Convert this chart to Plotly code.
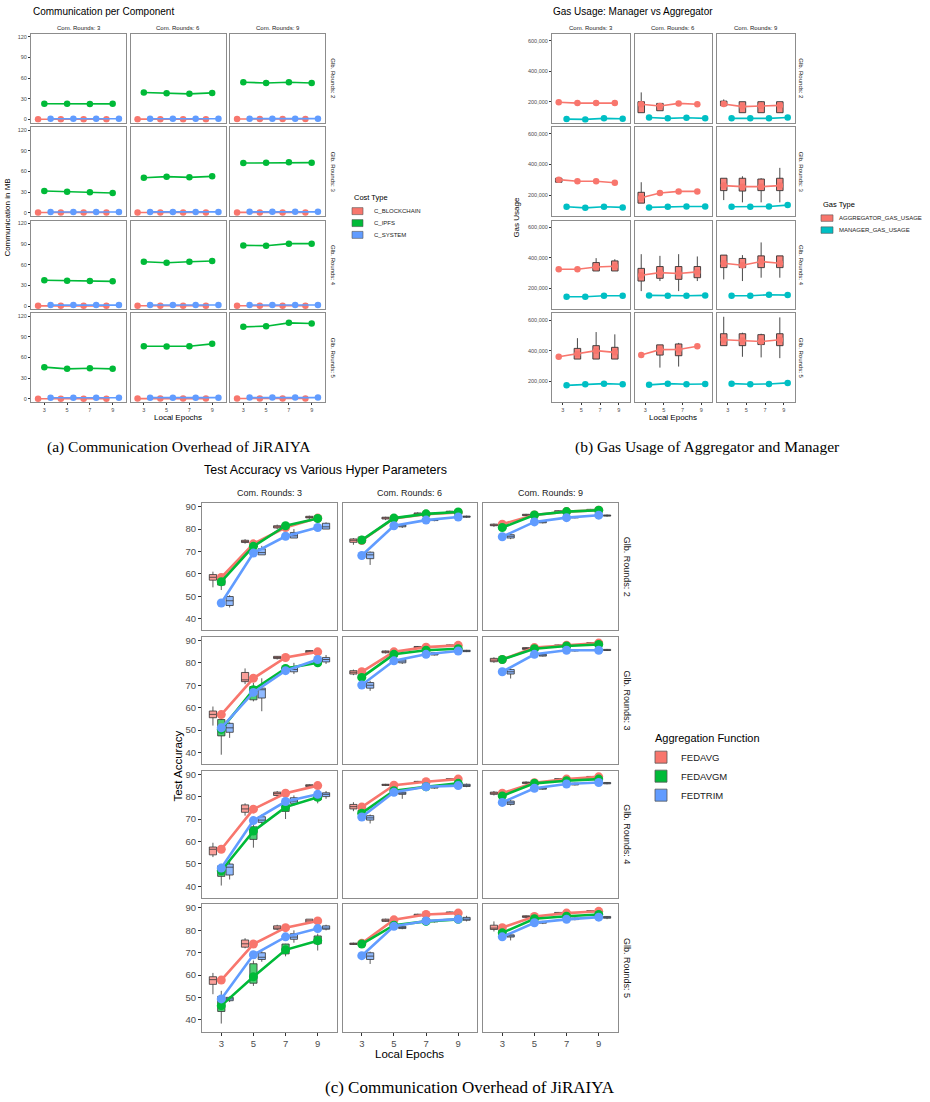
import plotly.graph_objects as go

W, H = 930, 1102
SANS = "Liberation Sans, Arial, sans-serif"
SERIF = "Liberation Serif, Times New Roman, serif"
BORDER = "#8C8C8C"

EPOCHS = [3, 5, 7, 9]
COM_ROUNDS = [3, 6, 9]
GLB_ROUNDS = [2, 3, 4, 5]

RED, GREEN, BLUE, TEAL = "#F8766D", "#00BA38", "#619CFF", "#00BFC4"

# ---------------- (a) Communication per Component (MB) ----------------
# dict key = Glb. Rounds; list rows = Com. Rounds 3/6/9; inner = epochs 3,5,7,9
A_COST_TYPES = ["C_BLOCKCHAIN", "C_IPFS", "C_SYSTEM"]
A_BLOCKCHAIN = {
    2: [[0.2, 0.2, 0.2, 0.2], [0.3, 0.3, 0.3, 0.3], [0.4, 0.4, 0.4, 0.4]],
    3: [[0.2, 0.2, 0.2, 0.2], [0.3, 0.3, 0.3, 0.3], [0.4, 0.4, 0.4, 0.4]],
    4: [[0.2, 0.2, 0.2, 0.2], [0.3, 0.3, 0.3, 0.3], [0.4, 0.4, 0.4, 0.4]],
    5: [[0.2, 0.2, 0.2, 0.2], [0.3, 0.3, 0.3, 0.3], [0.4, 0.4, 0.4, 0.4]],
}
A_IPFS = {
    2: [[22.6, 22.6, 22.2, 22.5], [38.9, 37.9, 37.0, 38.4], [53.8, 52.8, 53.8, 52.8]],
    3: [[31.4, 30.5, 29.5, 28.5], [50.8, 52.3, 51.3, 52.7], [72.1, 72.6, 73.1, 72.6]],
    4: [[37.3, 36.8, 36.3, 35.8], [64.3, 62.9, 64.3, 65.3], [88.0, 87.6, 90.5, 90.5]],
    5: [[46.0, 43.5, 44.5, 43.5], [76.4, 76.0, 76.4, 79.8], [104.5, 105.5, 110.3, 109.3]],
}
A_SYSTEM = {
    2: [[0.8, 0.8, 0.8, 0.8], [0.9, 0.9, 0.9, 0.9], [1.0, 1.0, 1.0, 1.0]],
    3: [[1.0, 1.0, 1.0, 1.0], [1.1, 1.1, 1.1, 1.1], [1.2, 1.2, 1.2, 1.2]],
    4: [[1.3, 1.3, 1.3, 1.3], [1.4, 1.4, 1.4, 1.4], [1.5, 1.5, 1.5, 1.5]],
    5: [[1.6, 1.6, 1.6, 1.6], [1.7, 1.7, 1.7, 1.7], [1.8, 1.8, 1.8, 1.8]],
}
A_YTICKS = [0, 30, 60, 90, 120]

# ---------------- (b) Gas usage ----------------
B_GAS_TYPES = ["AGGREGATOR_GAS_USAGE", "MANAGER_GAS_USAGE"]
B_AGG_MEAN = {
    2: [[196e3, 191e3, 191e3, 191e3], [183e3, 172e3, 189e3, 183e3], [185e3, 168e3, 172e3, 176e3]],
    3: [[301e3, 290e3, 290e3, 281e3], [182e3, 213e3, 224e3, 224e3], [262e3, 255e3, 255e3, 262e3]],
    4: [[325e3, 325e3, 340e3, 345e3], [286e3, 303e3, 297e3, 308e3], [365e3, 352e3, 376e3, 365e3]],
    5: [[360e3, 378e3, 400e3, 389e3], [371e3, 407e3, 408e3, 429e3], [472e3, 466e3, 460e3, 472e3]],
}
B_MGR_MEAN = {
    2: [[86e3, 84e3, 91e3, 88e3], [97e3, 91e3, 95e3, 91e3], [91e3, 91e3, 91e3, 97e3]],
    3: [[123e3, 116e3, 123e3, 119e3], [119e3, 123e3, 125e3, 125e3], [123e3, 123e3, 125e3, 134e3]],
    4: [[145e3, 145e3, 152e3, 152e3], [154e3, 152e3, 152e3, 154e3], [152e3, 152e3, 158e3, 156e3]],
    5: [[173e3, 180e3, 184e3, 180e3], [176e3, 184e3, 180e3, 182e3], [184e3, 180e3, 182e3, 189e3]],
}
# aggregator boxplots: [lower whisker, q1, median, q3, upper whisker] (None = not visible)
B_AGG_BOX = {
    (2, 3): [None, None, None, None],
    (2, 6): [[128e3, 128e3, 183e3, 200e3, 261e3], [141e3, 141e3, 172e3, 189e3, 189e3], None, None],
    (2, 9): [[174e3, 174e3, 185e3, 204e3, 215e3], [128e3, 128e3, 168e3, 200e3, 200e3],
             [128e3, 128e3, 172e3, 200e3, 204e3], [128e3, 128e3, 176e3, 200e3, 200e3]],
    (3, 3): [[284e3, 284e3, 301e3, 310e3, 310e3], None, None, None],
    (3, 6): [[147e3, 147e3, 182e3, 218e3, 284e3], None, None, None],
    (3, 9): [[167e3, 229e3, 262e3, 310e3, 310e3], [152e3, 226e3, 255e3, 310e3, 323e3],
             [152e3, 229e3, 255e3, 305e3, 310e3], [152e3, 229e3, 262e3, 310e3, 378e3]],
    (4, 3): [None, None, [314e3, 314e3, 338e3, 369e3, 398e3], [314e3, 314e3, 345e3, 380e3, 391e3]],
    (4, 6): [[182e3, 248e3, 292e3, 331e3, 424e3], [248e3, 266e3, 303e3, 343e3, 413e3],
             [182e3, 259e3, 299e3, 343e3, 424e3], [248e3, 270e3, 308e3, 343e3, 409e3]],
    (4, 9): [[259e3, 336e3, 369e3, 418e3, 418e3], [248e3, 336e3, 358e3, 396e3, 418e3],
             [270e3, 336e3, 369e3, 413e3, 501e3], [270e3, 336e3, 369e3, 413e3, 413e3]],
    (5, 3): [None, [345e3, 345e3, 378e3, 415e3, 482e3], [345e3, 345e3, 393e3, 433e3, 522e3],
             [345e3, 345e3, 389e3, 422e3, 507e3]],
    (5, 6): [None, [289e3, 371e3, 407e3, 438e3, 438e3], [296e3, 367e3, 411e3, 444e3, 451e3], None],
    (5, 9): [[433e3, 433e3, 471e3, 511e3, 622e3], [360e3, 433e3, 467e3, 511e3, 518e3],
             [356e3, 440e3, 460e3, 505e3, 511e3], [351e3, 433e3, 472e3, 511e3, 618e3]],
}
B_YTICKS = [200000, 400000, 600000]

# ---------------- (c) Test accuracy ----------------
FUNCS = ["FEDAVG", "FEDAVGM", "FEDTRIM"]
C_MEAN = {
    2: {"FEDAVG": [[58.4, 73.4, 80.7, 84.9], [74.9, 84.7, 86.6, 87.4], [82.2, 86.3, 87.8, 88.4]],
        "FEDAVGM": [[56.5, 72.3, 81.5, 84.7], [75.1, 84.9, 86.8, 87.6], [80.7, 86.3, 87.8, 88.4]],
        "FEDTRIM": [[47.0, 69.3, 76.8, 80.7], [68.2, 81.5, 84.0, 85.4], [76.6, 83.2, 85.1, 86.2]]},
    3: {"FEDAVG": [[56.9, 73.1, 82.4, 84.9], [76.0, 84.9, 87.0, 87.8], [81.5, 86.8, 87.8, 88.8]],
        "FEDAVGM": [[50.3, 68.0, 77.5, 80.0], [73.5, 83.8, 85.6, 86.3], [81.5, 86.3, 87.5, 88.2]],
        "FEDTRIM": [[51.0, 66.8, 76.5, 81.5], [70.1, 80.9, 83.8, 85.3], [76.0, 83.8, 85.6, 85.6]]},
    4: {"FEDAVG": [[56.5, 74.4, 81.5, 84.9], [75.3, 85.1, 86.6, 87.8], [81.5, 86.2, 87.8, 88.8]],
        "FEDAVGM": [[46.9, 64.6, 75.3, 79.7], [72.6, 82.6, 84.4, 85.9], [80.3, 85.9, 87.1, 87.8]],
        "FEDTRIM": [[48.1, 69.3, 77.8, 81.0], [70.9, 81.9, 84.4, 84.9], [77.4, 83.7, 85.6, 86.3]]},
    5: {"FEDAVG": [[57.8, 73.9, 81.2, 84.2], [74.2, 84.7, 87.1, 87.7], [81.2, 86.2, 87.7, 88.5]],
        "FEDAVGM": [[46.4, 59.3, 71.3, 75.4], [73.9, 82.3, 84.0, 84.9], [78.9, 85.2, 86.3, 87.1]],
        "FEDTRIM": [[49.4, 69.1, 77.1, 80.8], [68.7, 81.8, 84.2, 85.0], [77.1, 83.4, 84.9, 85.9]]},
}
# boxplots: [lower whisker, q1, median, q3, upper whisker]
C_BOX = {
    2: {"FEDAVG": [[[54, 57.2, 58.5, 59.7, 61], [73.5, 74, 74.5, 75, 75.5], [80, 80.5, 81, 81.5, 82], [84.5, 85, 85.3, 85.7, 86]],
                   [[73, 74.1, 75, 75.6, 76], [84, 84.5, 85, 85.3, 85.5], [86.2, 86.5, 86.8, 87.2, 87.5], [87.3, 87.5, 87.8, 88, 88.2]],
                   [[81, 81.5, 81.8, 82.2, 82.5], [85.8, 86, 86.3, 86.6, 86.8], [87.4, 87.6, 87.9, 88.2, 88.4], [88, 88.3, 88.5, 88.8, 89]]],
        "FEDAVGM": [[[52.8, 55, 56.5, 58, 58.5], [71.5, 72, 73, 74, 74.5], [80.5, 81, 81.5, 82, 82.5], [83.5, 84, 84.8, 85.5, 86]],
                    [[73.5, 74, 75, 76.5, 77], [83.8, 84, 84.5, 85, 85.3], [85.8, 86, 86.5, 87, 87.2], [86.8, 87, 87.5, 88, 88.2]],
                    [[79.5, 80, 81, 82, 82.5], [85.8, 86, 86.4, 86.8, 87], [87.3, 87.5, 87.8, 88, 88.3], [87.8, 88, 88.3, 88.6, 88.8]]],
        "FEDTRIM": [[[45, 45.9, 48, 49.9, 50.5], [68.5, 68.5, 69.5, 71.2, 72.5], [76, 76, 77, 78.5, 80], [80, 80, 81, 82.6, 83]],
                    [[64, 66.8, 68.5, 69.7, 70], [80.5, 81, 81.5, 82, 82.3], [83.5, 83.8, 84, 84.3, 84.6], [85, 85.3, 85.5, 85.8, 86]],
                    [[75.5, 76, 76.8, 77.5, 78], [82.5, 82.8, 83.2, 83.5, 83.8], [84.8, 85, 85.2, 85.5, 85.8], [85.5, 85.8, 86, 86.3, 86.5]]]},
    3: {"FEDAVG": [[[52, 55.5, 57, 58.5, 60.5], [70.5, 71.6, 72.4, 75.7, 77.5], [81.5, 81.9, 82.4, 82.9, 83], [84.3, 84.5, 85, 85.5, 85.7]],
                   [[74.5, 75, 75.8, 76.5, 77], [84.2, 84.5, 84.9, 85.3, 85.5], [86.5, 86.7, 87, 87.3, 87.5], [87.3, 87.5, 87.8, 88, 88.2]],
                   [[80, 80.5, 81.2, 82, 82.5], [85.8, 86, 86.4, 86.8, 87], [87, 87.3, 87.6, 88, 88.2], [88.3, 88.5, 88.8, 89, 89.2]]],
        "FEDAVGM": [[[39, 47.4, 50, 54.7, 55], [62.8, 63.5, 68, 69.4, 71], [76, 76.8, 77.5, 78.2, 79], [79, 79.5, 80, 81, 82]],
                    [[72.5, 73, 73.5, 74.5, 75], [82.8, 83, 83.8, 84.5, 84.8], [84.8, 85, 85.5, 86, 86.2], [85.3, 85.5, 86, 86.5, 86.8]],
                    [[80.5, 81, 81.5, 82, 82.3], [85.3, 85.5, 86, 86.5, 86.8], [86.8, 87, 87.3, 87.5, 87.8], [87.8, 88, 88.2, 88.5, 88.7]]],
        "FEDTRIM": [[[46.5, 49, 51, 53, 53.5], [58.4, 64.3, 68, 68.7, 73.1], [75, 76, 77, 78.2, 80], [79.5, 80.4, 81.5, 82.4, 83.5]],
                    [[67.5, 68.7, 70, 71.2, 72], [79.5, 80, 80.8, 81.5, 81.8], [83.3, 83.5, 83.9, 84.5, 84.7], [84.8, 85, 85.3, 85.6, 85.8]],
                    [[73, 75, 76, 77, 77.5], [82.8, 83, 83.5, 83.8, 84], [85, 85.3, 85.6, 85.8, 86], [85.3, 85.5, 85.7, 86, 86.2]]]},
    4: {"FEDAVG": [[[53, 54, 56.5, 57.5, 59.4], [71.5, 73, 74.5, 76.3, 77], [80, 80.5, 81.3, 82, 82.5], [84, 84.5, 84.9, 85.3, 85.5]],
                   [[73.5, 74.5, 75.5, 76.5, 77.5], [84.7, 85, 85.2, 85.5, 85.7], [86, 86.3, 86.5, 86.8, 87], [87.3, 87.5, 87.8, 88, 88.2]],
                   [[80.5, 81, 81.5, 82, 82.5], [85.5, 85.8, 86.2, 86.5, 86.8], [87.3, 87.5, 87.8, 88, 88.2], [88.3, 88.5, 88.8, 89, 89.2]]],
        "FEDAVGM": [[[40.3, 44.4, 47, 49.1, 50], [57.2, 60.9, 64, 66.5, 67.5], [70, 73.4, 75, 76.5, 77], [77, 78.5, 79.5, 80.5, 82]],
                    [[71.5, 72, 72.8, 74, 74.5], [81.8, 82, 82.5, 83, 83.3], [83.8, 84, 84.5, 85, 85.2], [85.3, 85.5, 86, 86.5, 86.8]],
                    [[79.5, 80, 80.4, 81, 81.3], [85.3, 85.5, 85.8, 86, 86.3], [86.5, 86.8, 87.1, 87.5, 87.7], [87.3, 87.5, 87.8, 88.2, 88.4]]],
        "FEDTRIM": [[[43, 45, 48.5, 49.9, 51.5], [67, 68.5, 69.5, 71, 72], [76, 77, 78, 79.5, 80.5], [79, 80, 81, 81.7, 82.5]],
                    [[68, 69.5, 70.5, 71.5, 72], [79, 81, 81.5, 82, 82.3], [83.5, 83.8, 84.2, 84.5, 84.8], [84.2, 84.5, 85, 85.5, 85.8]],
                    [[76, 76.5, 77.2, 78, 78.5], [83, 83.3, 83.7, 84, 84.3], [85, 85.2, 85.6, 86, 86.2], [85.5, 85.7, 86, 86.3, 86.5]]]},
    5: {"FEDAVG": [[[51.5, 55.9, 58, 59.3, 61], [72, 72.5, 74, 75.7, 76.5], [80, 80.5, 81, 82, 82.5], [83, 83.5, 84.2, 85, 85]],
                   [[73.5, 73.7, 74, 74.3, 74.5], [83.8, 84, 84.5, 85, 85.2], [86.3, 86.5, 86.8, 87.2, 87.4], [87.5, 87.7, 88, 88.2, 88.4]],
                   [[79.5, 80.4, 81, 82.3, 84], [85.5, 85.8, 86.1, 86.5, 86.7], [87, 87.3, 87.6, 88, 88.2], [88, 88.3, 88.5, 88.8, 89]]],
        "FEDAVGM": [[[38.4, 43.8, 46, 50.5, 53], [55.2, 56.4, 60, 65.1, 66.5], [68.4, 69.5, 71.5, 73.9, 74], [71, 74, 75.5, 77.5, 78.5]],
                    [[73.3, 73.5, 74, 75, 75.3], [81.8, 82, 82.5, 83, 83.3], [83.8, 84, 84.5, 85, 85.2], [84.3, 84.5, 85, 85.5, 85.8]],
                    [[77.5, 78, 79, 80, 80.5], [84.8, 85, 85.4, 85.8, 86], [85.8, 86, 86.4, 86.8, 87], [86.5, 86.8, 87.1, 87.5, 87.7]]],
        "FEDTRIM": [[[48, 48.6, 49.4, 50.1, 50.5], [66, 67, 68, 70, 71], [74.5, 76, 77, 78.5, 80], [80, 80.5, 81, 82, 82.5]],
                    [[65, 67, 68.5, 70, 70.5], [80.5, 80.8, 81.3, 81.8, 82], [83.5, 83.8, 84.1, 84.4, 84.6], [84, 84.5, 85, 85.8, 86.5]],
                    [[75.5, 77, 77.5, 78, 79], [82.8, 83.2, 83.5, 84, 84.2], [84.5, 84.8, 85.1, 85.5, 85.7], [85, 85.4, 85.8, 86.2, 86.4]]]},
}
C_YTICKS = [40, 50, 60, 70, 80, 90]

# ---------------- styling ----------------
FUNC_COLORS = {"FEDAVG": RED, "FEDAVGM": GREEN, "FEDTRIM": BLUE}
FUNC_FILLS = {"FEDAVG": "rgba(248,118,109,0.7)", "FEDAVGM": "rgba(0,186,56,0.7)", "FEDTRIM": "rgba(97,156,255,0.7)"}
FUNC_SHIFT = {"FEDAVG": -0.52, "FEDAVGM": 0.0, "FEDTRIM": 0.52}
A_COLORS = {"C_BLOCKCHAIN": RED, "C_IPFS": GREEN, "C_SYSTEM": BLUE}
A_SHIFT = {"C_BLOCKCHAIN": -0.55, "C_IPFS": 0.0, "C_SYSTEM": 0.55}
A_DATA = {"C_BLOCKCHAIN": A_BLOCKCHAIN, "C_IPFS": A_IPFS, "C_SYSTEM": A_SYSTEM}
B_COLORS = [RED, TEAL]
B_SHIFT = 0.42

fig = go.Figure()
layout_axes = {}
annotations = []
shapes = []
n_axes = [0]


def make_axes(x0, x1, y0, y1, xr, yr, yticks, show_x, show_y, fsize, yfmt=None, ticklen=2.5):
    n_axes[0] += 1
    k = n_axes[0]
    s = "" if k == 1 else str(k)
    common = dict(showline=True, mirror=True, linecolor=BORDER, linewidth=1, showgrid=False,
                  zeroline=False, ticklen=ticklen, tickwidth=1, tickcolor="#333333",
                  tickfont=dict(family=SANS, size=fsize, color="#4D4D4D"), fixedrange=True)
    xa = dict(common, domain=[x0 / W, x1 / W], range=xr, anchor="y" + s, tickmode="array",
              tickvals=EPOCHS, ticks="outside" if show_x else "", showticklabels=show_x)
    ya = dict(common, domain=[1 - y1 / H, 1 - y0 / H], range=yr, anchor="x" + s, tickmode="array",
              tickvals=yticks, ticks="outside" if show_y else "", showticklabels=show_y)
    if yfmt:
        ya["tickformat"] = yfmt
    layout_axes["xaxis" + s] = xa
    layout_axes["yaxis" + s] = ya
    return "x" + s, "y" + s


def ann(text, x, y, size, color="#1A1A1A", xanchor="center", yanchor="middle", angle=0, family=SANS):
    annotations.append(dict(text=text, x=x / W, y=1 - y / H, xref="paper", yref="paper",
                            showarrow=False, font=dict(family=family, size=size, color=color),
                            xanchor=xanchor, yanchor=yanchor, textangle=angle))


def manual_legend(title, names, colors, x, y_title, y_items, key_w, key_h, text_x, tsize, isize):
    ann(title, x, y_title, tsize, color="#000000", xanchor="left")
    for name, col, yy in zip(names, colors, y_items):
        shapes.append(dict(type="rect", xref="paper", yref="paper",
                           x0=x / W, x1=(x + key_w) / W, y0=1 - (yy + key_h / 2) / H,
                           y1=1 - (yy - key_h / 2) / H, fillcolor=col,
                           line=dict(color="#555555", width=0.6)))
        ann(name, text_x, yy, isize, xanchor="left")


def legend_entry(name, color, legend, xa, ya, size):
    fig.add_trace(go.Scatter(x=[None], y=[None], mode="markers", name=name, legend=legend,
                             marker=dict(symbol="square", size=size, color=color,
                                         line=dict(color="#555555", width=0.8)),
                             xaxis=xa, yaxis=ya, showlegend=True, hoverinfo="skip"))


def add_boxes(xa, ya, pos, stats, fill, width, lw):
    if not pos:
        return
    fig.add_trace(go.Box(x=pos, lowerfence=[s[0] for s in stats], q1=[s[1] for s in stats],
                         median=[s[2] for s in stats], q3=[s[3] for s in stats],
                         upperfence=[s[4] for s in stats], width=width, fillcolor=fill,
                         line=dict(color="#333333", width=lw), whiskerwidth=0, boxpoints=False,
                         showlegend=False, hoverinfo="skip", xaxis=xa, yaxis=ya))


ROW_TOP_AB = [32, 125.5, 219, 312]
ROW_H_AB = 89

# ---------- panel (a) ----------
A_LEFT = [31, 130.5, 230]
A_W = 95
for i, g in enumerate(GLB_ROUNDS):
    for j, c in enumerate(COM_ROUNDS):
        xa, ya = make_axes(A_LEFT[j], A_LEFT[j] + A_W, ROW_TOP_AB[i], ROW_TOP_AB[i] + ROW_H_AB,
                           [1.83, 10.17], [-5, 124], A_YTICKS, i == 3, j == 0, 5.5, ticklen=2)
        for ct in A_COST_TYPES:
            fig.add_trace(go.Scatter(x=[e + A_SHIFT[ct] for e in EPOCHS], y=A_DATA[ct][g][j],
                                     mode="lines+markers", line=dict(color=A_COLORS[ct], width=1.6),
                                     marker=dict(color=A_COLORS[ct], size=6.5), showlegend=False,
                                     xaxis=xa, yaxis=ya, hoverinfo="skip"))
manual_legend("Cost Type", A_COST_TYPES, [A_COLORS[c] for c in A_COST_TYPES],
              352, 196, [209.5, 221.5, 233.3], 11, 7, 371.5, 7.5, 6)

for j, c in enumerate(COM_ROUNDS):
    ann(f"Com. Rounds: {c}", A_LEFT[j] + A_W / 2, 26.5, 6)
for i, g in enumerate(GLB_ROUNDS):
    ann(f"Glb. Rounds: {g}", 333, ROW_TOP_AB[i] + ROW_H_AB / 2, 6, angle=90)
ann("Communication per Component", 31, 10, 10, color="#000000", xanchor="left")
ann("Communication in MB", 8, 216, 8, color="#000000", angle=-90)
ann("Local Epochs", (A_LEFT[0] + A_LEFT[2] + A_W) / 2, 416, 8, color="#000000")

# ---------- panel (b) ----------
B_LEFT = [552, 634.5, 717]
B_W = 77.5
for i, g in enumerate(GLB_ROUNDS):
    for j, c in enumerate(COM_ROUNDS):
        xa, ya = make_axes(B_LEFT[j], B_LEFT[j] + B_W, ROW_TOP_AB[i], ROW_TOP_AB[i] + ROW_H_AB,
                           [1.86, 10.15], [62000, 644000], B_YTICKS, i == 3, j == 0, 5.5,
                           yfmt=",d", ticklen=2)
        boxes = B_AGG_BOX[(g, c)]
        pos = [e - B_SHIFT for e, b in zip(EPOCHS, boxes) if b is not None]
        stats = [b for b in boxes if b is not None]
        add_boxes(xa, ya, pos, stats, "rgba(248,118,109,0.9)", 0.7, 0.9)
        fig.add_trace(go.Scatter(x=[e - B_SHIFT for e in EPOCHS], y=B_AGG_MEAN[g][j],
                                 mode="lines+markers", line=dict(color=RED, width=1.6),
                                 marker=dict(color=RED, size=6.5), showlegend=False,
                                 xaxis=xa, yaxis=ya, hoverinfo="skip"))
        fig.add_trace(go.Scatter(x=[e + B_SHIFT for e in EPOCHS], y=B_MGR_MEAN[g][j],
                                 mode="lines+markers", line=dict(color=TEAL, width=1.6),
                                 marker=dict(color=TEAL, size=6.5), showlegend=False,
                                 xaxis=xa, yaxis=ya, hoverinfo="skip"))
manual_legend("Gas Type", B_GAS_TYPES, B_COLORS, 821, 203, [216.5, 228.5], 12, 6.5, 837, 7.5, 6)

for j, c in enumerate(COM_ROUNDS):
    ann(f"Com. Rounds: {c}", B_LEFT[j] + B_W / 2, 26.5, 6)
for i, g in enumerate(GLB_ROUNDS):
    ann(f"Glb. Rounds: {g}", 801, ROW_TOP_AB[i] + ROW_H_AB / 2, 6, angle=90)
ann("Gas Usage: Manager vs Aggregator", 551, 10, 10, color="#000000", xanchor="left")
ann("Gas Usage", 517, 216, 8, color="#000000", angle=-90)
ann("Local Epochs", (B_LEFT[0] + B_LEFT[2] + B_W) / 2, 416, 8, color="#000000")

# ---------- panel (c) ----------
C_LEFT = [202, 342.5, 483]
C_W = 134.5
C_TOP = [502, 636, 770, 904]
C_H = 127.5
first_c = None
for i, g in enumerate(GLB_ROUNDS):
    for j, c in enumerate(COM_ROUNDS):
        xa, ya = make_axes(C_LEFT[j], C_LEFT[j] + C_W, C_TOP[i], C_TOP[i] + C_H,
                           [1.8, 10.17], [34.8, 91.6], C_YTICKS, i == 3, j == 0, 9.5, ticklen=3)
        first_c = first_c or (xa, ya)
        for f in FUNCS:
            add_boxes(xa, ya, [e + FUNC_SHIFT[f] for e in EPOCHS], C_BOX[g][f][j],
                      FUNC_FILLS[f], 0.45, 0.8)
        for f in FUNCS:
            fig.add_trace(go.Scatter(x=EPOCHS, y=C_MEAN[g][f][j], mode="lines+markers",
                                     line=dict(color=FUNC_COLORS[f], width=2.6),
                                     marker=dict(color=FUNC_COLORS[f], size=9), showlegend=False,
                                     xaxis=xa, yaxis=ya, hoverinfo="skip"))
for f in FUNCS:
    legend_entry(f, FUNC_COLORS[f], "legend", first_c[0], first_c[1], 12)

for j, c in enumerate(COM_ROUNDS):
    ann(f"Com. Rounds: {c}", C_LEFT[j] + C_W / 2, 492, 9)
for i, g in enumerate(GLB_ROUNDS):
    ann(f"Glb. Rounds: {g}", 627, C_TOP[i] + C_H / 2, 9, angle=90)
ann("Test Accuracy vs Various Hyper Parameters", 202, 469, 12.5, color="#000000", xanchor="left")
ann("Test Accuracy", 178, 766, 11.5, color="#000000", angle=-90)
ann("Local Epochs", (C_LEFT[0] + C_LEFT[2] + C_W) / 2, 1054, 11.5, color="#000000")
ann("Aggregation Function", 653, 737, 11, color="#000000", xanchor="left")

# ---------- captions ----------
ann("(a) Communication Overhead of JiRAIYA", 179, 446, 15.5, color="#000000", family=SERIF)
ann("(b) Gas Usage of Aggregator and Manager", 707, 446, 15.5, color="#000000", family=SERIF)
ann("(c) Communication Overhead of JiRAIYA", 470, 1087, 17, color="#000000", family=SERIF)

fig.update_layout(
    width=W, height=H, margin=dict(l=0, r=0, t=0, b=0),
    paper_bgcolor="white", plot_bgcolor="white", showlegend=True,
    annotations=annotations, shapes=shapes,
    legend=dict(x=641 / W, y=1 - 742 / H, xanchor="left", yanchor="top", bgcolor="rgba(0,0,0,0)",
                font=dict(family=SANS, size=9.5, color="#1A1A1A")),
    **layout_axes,
)

fig.write_html("out.html", config={"displayModeBar": False})
